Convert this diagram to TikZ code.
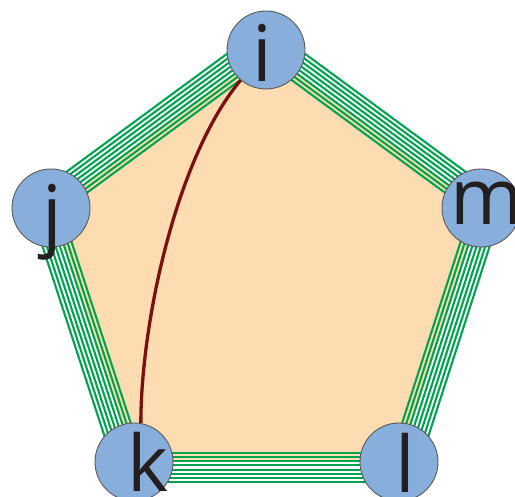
\documentclass[tikz,border=0pt]{standalone}
\usepackage{fontspec}
\setmainfont{Open Sans}
\usetikzlibrary{calc}
\definecolor{peach}{RGB}{252,220,176}
\definecolor{nodeblue}{RGB}{136,174,220}
\definecolor{edgegreen}{RGB}{0,163,78}
\definecolor{curvered}{RGB}{122,16,16}
\definecolor{ink}{RGB}{35,31,32}
\pgfdeclarelayer{bg}
\pgfsetlayers{bg,main}
\begin{document}
\begin{tikzpicture}[x=1pt,y=1pt,
  vert/.style={circle, fill=nodeblue, draw=black!65, line width=0.9pt, minimum size=78pt, inner sep=0pt},
  lab/.style={anchor=base, font=\fontsize{78}{80}\selectfont, text=ink, inner sep=0pt},
  multi/.style={draw=edgegreen, line width=2.1pt},
  chord/.style={draw=curvered, line width=3.3pt}]
\useasboundingbox (0,0) rectangle (515,497);
\clip (0,0) rectangle (515,497);
\node[vert] (i) at (266,447) {};
\node[vert] (j) at (51,289) {};
\node[vert] (m) at (481,289) {};
\node[vert] (k) at (134,35) {};
\node[vert] (l) at (399,35) {};
\begin{pgfonlayer}{bg}
  \fill[peach] (i.center) -- (m.center) -- (l.center) -- (k.center) -- (j.center) -- cycle;
  \foreach \a/\b in {i/m,m/l,l/k,k/j,j/i}{
    \foreach \d in {-9,-4.86,-0.71,3.43,7.57,11.71,15.86,20}{
      \draw[multi] ($(\a.center)!\d pt!90:(\b.center)$) -- ($(\b.center)!\d pt!-90:(\a.center)$);
    }
  }
  \draw[chord] (i.230) .. controls ($(i.230)+(230:100)$) and ($(k.80)+(0,100)$) .. (k.80);
\end{pgfonlayer}
\node[lab] (ti) at (262,415) {i};
\node[lab] (tj) at (52,255) {j};
\node[lab] (tk) at (147.5,5) {k};
\node[lab] (tl) at (405.5,4) {l};
\node[lab] (tm) at (487,272) {m};
\end{tikzpicture}
\end{document}
